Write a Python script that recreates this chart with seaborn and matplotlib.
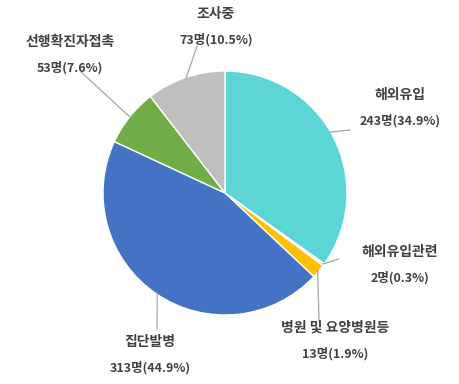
import numpy as np
import matplotlib.pyplot as plt
import seaborn as sns

# 감염경로별 확진자 현황
labels = ['해외유입', '해외유입관련', '병원 및 요양병원등', '집단발병', '선행확진자접촉', '조사중']
counts = [243, 2, 13, 313, 53, 73]
pcts = [34.9, 0.3, 1.9, 44.9, 7.6, 10.5]
colors = ['#5BD5D6', '#F3E8C6', '#FFC000', '#4472C4', '#70AD47', '#BFBFBF']

sns.set_theme(style='white')
plt.rcParams['font.family'] = ['Noto Sans CJK KR', 'DejaVu Sans']

fig = plt.figure(figsize=(4.59, 3.84), dpi=100)
W, H = 459, 384
cx, cy, r = 225, 193, 122
ax = fig.add_axes([(cx - r) / W, (H - cy - r) / H, 2 * r / W, 2 * r / H])

wedges, _ = ax.pie(counts, colors=colors, startangle=90, counterclock=False,
                   wedgeprops=dict(edgecolor='white', linewidth=1))
ax.set_xlim(-1, 1)
ax.set_ylim(-1, 1)
ax.set_aspect('equal')
ax.axis('off')

# 라벨 위치 (픽셀) 와 지시선 끝점
label_pos = [(400, 95), (400, 252), (335, 328), (150, 342), (70, 42), (216, 14)]
line_end = [(350, 130), (339, 259), (319, 321), (157, 329), (81, 72), (197, 46)]
# 지시선 시작 각도 보정
angle_fix = [3, 0, 0, 0, 0, 0]

for i, w in enumerate(wedges):
    ang = np.deg2rad((w.theta1 + w.theta2) / 2 + angle_fix[i])
    x0, y0 = 0.99 * np.cos(ang), 0.99 * np.sin(ang)
    ex, ey = line_end[i]
    ax.annotate('', xy=(x0, y0), xycoords='data',
                xytext=(ex / W, 1 - ey / H), textcoords='figure fraction',
                arrowprops=dict(arrowstyle='-', color='#A6A6A6', lw=0.9,
                                shrinkA=0, shrinkB=0))
    lx, ly = label_pos[i]
    fig.text(lx / W, 1 - ly / H, labels[i], ha='center', va='center',
             fontsize=10, fontweight='bold', color='#404040')
    fig.text(lx / W, 1 - (ly + 26) / H, f'{counts[i]}명({pcts[i]}%)',
             ha='center', va='center', fontsize=9, fontweight='bold',
             color='#404040')

fig.savefig('out.png', dpi=100)
